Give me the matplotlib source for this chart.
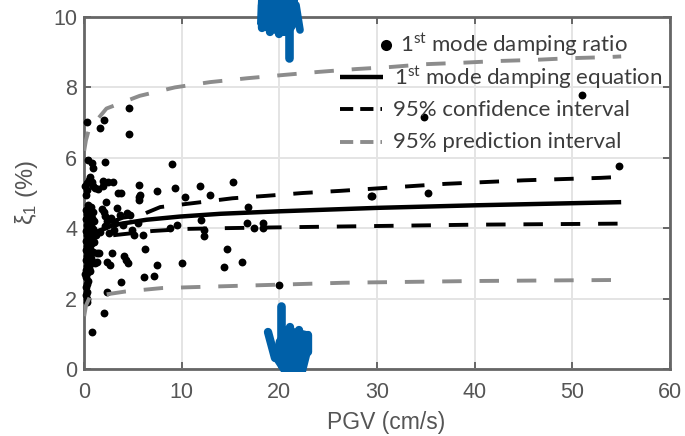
import matplotlib
matplotlib.use("Agg")
import matplotlib.pyplot as plt
from matplotlib.lines import Line2D
from matplotlib.patches import Polygon

W, H = 685, 436
plt.rcParams['font.family'] = ['Liberation Sans', 'DejaVu Sans']
plt.rcParams['mathtext.default'] = 'regular'

GREY = '#555555'
BLUE = '#0060a8'

# scatter: 1st mode damping ratio, far-field values
pts_x = [4.6, 4.6, 2.05, 1.64, 0.3, 9.0, 2.15, 0.8, 0.95, 0.45, 15.3, 11.9, 5.6, 9.3, 7.5, 5.7, 10.3, 12.9,
         3.8, 3.5, 3.0, 2.5, 1.9, 1.9, 5.6, 5.6, 2.3, 16.8, 29.5, 3.4, 2.0, 2.1, 2.4, 4.4, 4.7, 3.7,
         5.5, 4.9, 5.1, 6.0, 12.0, 12.3, 12.3, 8.8, 9.5, 16.7, 17.4, 18.3, 18.3, 6.25, 1.5, 2.9, 4.1, 4.5,
         4.3, 7.5, 10.0, 14.6, 14.3, 16.2, 2.7, 2.4, 1.3, 3.8, 6.1, 7.2, 2.4, 20.0, 2.05, 0.8, 0.3,
         51.0, 34.8, 54.8, 35.2, 29.4, 2.2, 2.8, 3.2, 1.6, 3.1, 4.0, 1.8, 2.6]
pts_y = [7.42, 6.67, 7.07, 6.85, 7.02, 5.82, 5.88, 5.85, 5.7, 5.95, 5.32, 5.2, 5.22, 5.15, 5.06, 4.94, 4.9, 4.94,
         5.0, 5.0, 5.32, 5.32, 5.35, 5.2, 4.88, 4.8, 4.74, 4.6, 4.92, 4.57, 4.46, 4.35, 4.2, 4.43, 4.38, 4.38,
         4.15, 3.95, 3.8, 3.8, 4.23, 3.95, 3.78, 4.0, 4.1, 4.15, 4.0, 4.15, 4.0, 3.41, 3.3, 3.3, 3.2, 3.0,
         3.1, 2.96, 3.0, 3.41, 2.9, 3.04, 2.95, 3.05, 3.05, 2.47, 2.6, 2.65, 2.2, 2.39, 1.6, 1.05, 1.9,
         7.78, 7.16, 5.77, 5.0, 4.92, 4.05, 4.3, 4.15, 3.9, 3.95, 4.1, 4.55, 3.85]
# scatter: dense cluster close to PGV = 0
near_x = [0.6, 0.3, 0.3, 1.1, 0.1, 0.8, 1.4, 0.5, 0.2, 0.9,
          0.4, 0.7, 0.2, 0.6, 0.9, 0.3, 0.5, 0.8, 0.2, 0.6, 1.0, 0.3, 0.7, 0.4, 0.9, 0.2, 0.6, 0.3, 1.2,
          0.5, 0.8, 0.2, 0.4, 0.7, 1.0, 0.3, 0.6, 0.2, 0.5, 0.9, 0.3, 0.7, 0.2, 0.4, 1.3, 0.6, 0.3, 0.8,
          0.2, 0.5, 0.3, 0.6, 1.1, 0.7, 0.2, 0.4, 0.3, 0.2, 0.3, 0.2, 0.3, 0.1]
near_y = [5.45, 5.28, 5.08, 5.14, 5.2, 5.3, 5.1, 5.38, 4.95, 5.2,
          4.65, 4.6, 4.52, 4.5, 4.45, 4.4, 4.33, 4.3, 4.25, 4.18, 4.2, 4.1, 4.05, 4.0, 3.98, 3.92, 3.85, 3.8, 3.82,
          3.72, 3.7, 3.65, 3.58, 3.55, 3.6, 3.5, 3.42, 3.38, 3.3, 3.32, 3.22, 3.15, 3.1, 3.05, 3.3, 2.98, 2.92, 3.05,
          2.82, 2.88, 2.72, 2.78, 3.0, 3.6, 2.6, 2.5, 2.42, 2.32, 2.2, 2.1, 1.98, 2.7]

eq_x = [0.05, 0.2, 0.95, 3.0, 6.4, 9.8, 14.0, 20.0, 30.3, 40.0, 55.0]
eq_y = [3.45, 3.65, 3.86, 4.09, 4.24, 4.33, 4.41, 4.48, 4.58, 4.65, 4.74]

ciu_x = [0.05, 0.2, 1.0, 4.0, 6.0, 6.5, 7.8, 11.4, 15.2, 18.7, 22.4, 26.2, 37.0, 45.0, 52.9, 55.0]
ciu_y = [3.5, 3.65, 4.0, 4.3, 4.38, 4.45, 4.6, 4.72, 4.85, 4.92, 5.0, 5.06, 5.26, 5.36, 5.43, 5.46]
cil_x = [0.05, 0.2, 1.3, 3.0, 7.0, 10.5, 14.1, 21.4, 40.0, 55.0]
cil_y = [3.25, 3.4, 3.7, 3.8, 3.92, 3.98, 4.0, 4.03, 4.1, 4.13]

piu_x = [0.02, 0.2, 0.5, 2.3, 5.7, 9.3, 12.9, 16.7, 20.3, 24.0, 27.8, 31.4, 35.0, 38.7, 42.4, 46.0, 49.8, 53.6, 55.0]
piu_y = [6.2, 6.5, 6.8, 7.4, 7.76, 8.0, 8.15, 8.26, 8.35, 8.44, 8.52, 8.58, 8.66, 8.7, 8.75, 8.78, 8.83, 8.86, 8.88]
pil_x = [0.02, 0.2, 0.6, 4.2, 8.0, 11.7, 15.4, 19.2, 22.9, 26.5, 40.0, 55.0]
pil_y = [1.5, 1.8, 2.05, 2.2, 2.3, 2.33, 2.36, 2.39, 2.42, 2.45, 2.5, 2.53]

x_ticks = [0, 10, 20, 30, 40, 50, 60]
y_ticks = [0, 2, 4, 6, 8, 10]
legend_labels = [r'$1^{st}$ mode damping ratio', r'$1^{st}$ mode damping equation',
                 '95% confidence interval', '95% prediction interval']

fig = plt.figure(figsize=(W / 100, H / 100), dpi=100)
ax = fig.add_axes([84 / W, 1 - 369 / H, (670 - 84) / W, (369 - 17) / H])
ax.set_xlim(0, 60)
ax.set_ylim(0, 10)
ax.set_xticks(x_ticks)
ax.set_yticks(y_ticks)
ax.grid(True, color='#e4e4e4', lw=1.4)
ax.set_axisbelow(True)
ax.tick_params(direction='in', length=5, width=1.4, color='#666666', labelcolor=GREY,
               labelsize=15.5, top=True, right=True)
ax.tick_params(axis='x', pad=9)
ax.tick_params(axis='y', pad=5)
for s in ax.spines.values():
    s.set_color('#666666')
    s.set_linewidth(2)

ax.scatter(pts_x + near_x, pts_y + near_y, s=32, color='black', zorder=3, clip_on=False, linewidths=0)
dash = (0, (5.0, 4.6))
ax.plot(eq_x, eq_y, color='black', lw=3.2, zorder=4, solid_capstyle='butt')
ax.plot(ciu_x, ciu_y, color='black', lw=2.8, ls=dash, zorder=4)
ax.plot(cil_x, cil_y, color='black', lw=2.8, ls=dash, zorder=4)
ax.plot(piu_x, piu_y, color='#8c8c8c', lw=2.8, ls=dash, zorder=4)
ax.plot(pil_x, pil_y, color='#8c8c8c', lw=2.8, ls=dash, zorder=4)

fig.text(386 / W, 1 - 422 / H, 'PGV (cm/s)', ha='center', va='center', fontsize=16.5, color=GREY)
fig.text(27 / W, 1 - 193 / H, r'$\xi_1$ (%)', ha='center', va='center', rotation=90, fontsize=17, color=GREY)


def fx(px):
    return px / W


def fy(py):
    return 1 - py / H


# manual legend, as in the source figure
lg_font = dict(family=['Lato', 'DejaVu Sans'], fontsize=16, color='#3c3c3c', va='center', ha='left')
fig.add_artist(Line2D([fx(386)], [fy(45)], marker='o', ms=8, color='black', ls='none', mew=0))
fig.text(fx(400), fy(45), legend_labels[0], **lg_font)
fig.add_artist(Line2D([fx(340), fx(383)], [fy(77), fy(77)], color='black', lw=3.2, solid_capstyle='butt'))
fig.text(fx(394), fy(78), legend_labels[1], **lg_font)
fig.add_artist(Line2D([fx(340), fx(382)], [fy(109), fy(109)], color='black', lw=2.8, ls=(0, (3.4, 1.8))))
fig.text(fx(393), fy(110), legend_labels[2], **lg_font)
fig.add_artist(Line2D([fx(340), fx(382)], [fy(142), fy(142)], color='#8c8c8c', lw=2.8, ls=(0, (3.4, 1.8))))
fig.text(fx(393), fy(142), legend_labels[3], **lg_font)


def stroke(xs, ys, lw):
    fig.add_artist(Line2D([fx(v) for v in xs], [fy(v) for v in ys], color=BLUE, lw=lw,
                          solid_capstyle='round', solid_joinstyle='round', zorder=10))


# pointing hands (decoration)
fig.add_artist(Polygon([(fx(a), fy(b)) for a, b in
                        [(258, 0), (298, 0), (298, 24), (290, 36), (282, 36), (262, 30), (257, 24)]],
                       closed=True, color=BLUE, lw=0, zorder=10))
stroke([288.5, 288.5], [5, 58], 6.2)
stroke([262, 262], [5, 28], 6)
stroke([270, 270], [5, 32], 6)
stroke([279, 279], [5, 34], 6)
stroke([296, 300], [5, 30], 5.5)

fig.add_artist(Polygon([(fx(a), fy(b)) for a, b in
                        [(281, 372), (306, 372), (311, 352), (311, 332), (285, 326), (276, 340), (272, 358)]],
                       closed=True, color=BLUE, lw=0, zorder=10))
stroke([281, 281], [306, 350], 6.2)
stroke([289.5, 289.5], [327, 352], 6)
stroke([299, 299], [330, 352], 6)
stroke([308, 308], [335, 352], 6)
stroke([268, 275], [332, 358], 6)

fig.savefig('out.png', dpi=100)
